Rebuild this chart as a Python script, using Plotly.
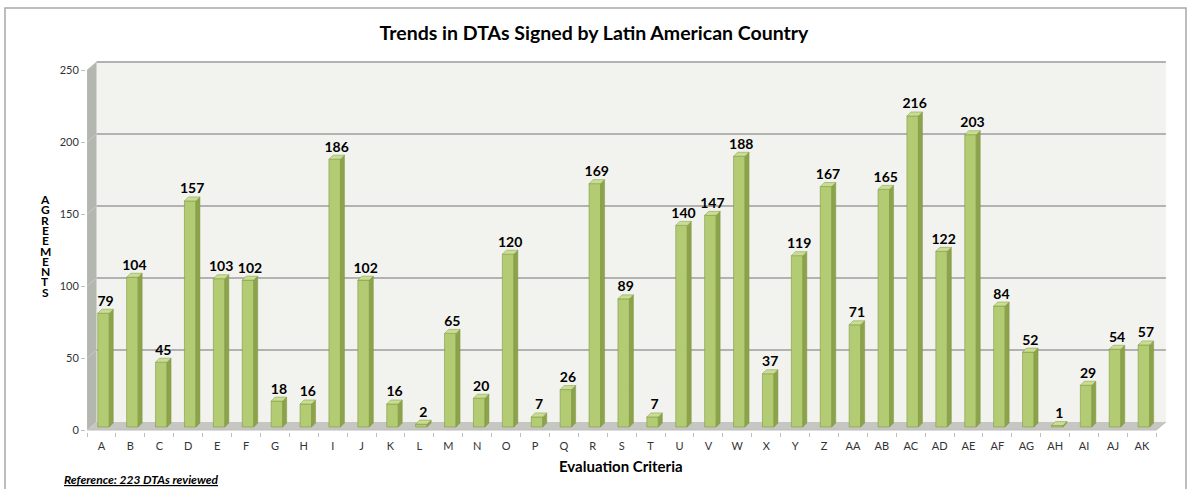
import plotly.graph_objects as go

# Evaluation criteria and number of agreements per criterion
categories = ["A", "B", "C", "D", "E", "F", "G", "H", "I", "J", "K", "L", "M", "N",
              "O", "P", "Q", "R", "S", "T", "U", "V", "W", "X", "Y", "Z", "AA", "AB",
              "AC", "AD", "AE", "AF", "AG", "AH", "AI", "AJ", "AK"]
agreements = [79, 104, 45, 157, 103, 102, 18, 16, 186, 102, 16, 2, 65, 20,
              120, 7, 26, 169, 89, 7, 140, 147, 188, 37, 119, 167, 71, 165,
              216, 122, 203, 84, 52, 1, 29, 54, 57]
y_ticks = [0, 50, 100, 150, 200, 250]

W, H = 1188, 489
# plot-area pixel box (front plane + depth of the 3D box)
PL, PR, PT, PB = 86, 1168, 60, 432
px_x = 28.9          # pixels per category
px_y = 1.44          # pixels per agreement unit
x0_pix = 101.5       # pixel centre of first category
y0_pix = 430         # pixel of value 0 on the front plane


def paper_x(px):
    return (px - PL) / (PR - PL)


def paper_y(py):
    return (PB - py) / (PB - PT)


x_min = -(x0_pix - PL) / px_x
x_max = x_min + (PR - PL) / px_x
y_min = -(PB - y0_pix) / px_y
y_max = y_min + (PB - PT) / px_y

# 3D depth offsets in data units
DX = 9.5 / px_x
DY = 8 / px_y
n = len(categories)
xl, xr = -0.5, n - 0.5

# bar geometry
bw = 11.5 / px_x
boff = 2.0 / px_x
bbase = 3 / px_y
sdx = 4 / px_x
sdy = 4 / px_y

FRONT = "#b3cc74"
SIDE = "#8ca34b"
TOP = "#c9dd93"
EDGE = "#7f9740"

fig = go.Figure()

shapes = []
# outer chart border
shapes.append(dict(type="rect", xref="paper", yref="paper",
                   x0=paper_x(5), x1=paper_x(1186), y0=paper_y(495), y1=paper_y(8),
                   line=dict(color="#a8a8a8", width=1.5), layer="below"))
# back wall
shapes.append(dict(type="rect", xref="x", yref="y", x0=xl + DX, x1=xr + DX,
                   y0=DY, y1=250 + DY, fillcolor="#f2f3ee", line=dict(width=0), layer="below"))
# left side wall
shapes.append(dict(type="path", xref="x", yref="y",
                   path=f"M {xl},{0} L {xl + DX},{DY} L {xl + DX},{250 + DY} L {xl},{250} Z",
                   fillcolor="#b4b6b0", line=dict(width=0), layer="below"))
# floor
shapes.append(dict(type="path", xref="x", yref="y",
                   path=f"M {xl},{0} L {xr},{0} L {xr + DX},{DY} L {xl + DX},{DY} Z",
                   fillcolor="#c6c7c2", line=dict(width=0), layer="below"))
# gridlines on back and side walls
for v in y_ticks[1:]:
    shapes.append(dict(type="line", xref="x", yref="y", x0=xl + DX, x1=xr + DX,
                       y0=v + DY, y1=v + DY, line=dict(color="#b2b2b2", width=2), layer="below"))
    shapes.append(dict(type="line", xref="x", yref="y", x0=xl, x1=xl + DX,
                       y0=v, y1=v + DY, line=dict(color="#c8c8c8", width=1), layer="below"))
# front floor edge
shapes.append(dict(type="line", xref="x", yref="y", x0=xl, x1=xr, y0=0, y1=0,
                   line=dict(color="#bdbdbd", width=1)))
shapes.append(dict(type="line", xref="x", yref="y", x0=xr, x1=xr + DX, y0=0, y1=DY,
                   line=dict(color="#bdbdbd", width=1)))

# front faces of the columns
xs = [i + boff for i in range(n)]
fig.add_trace(go.Bar(x=xs, y=agreements, base=[bbase] * n, width=bw,
                     marker=dict(color=FRONT, line=dict(color=EDGE, width=0.6)),
                     hoverinfo="skip", showlegend=False))

# side faces and tops built from the same values
side_x, side_y, top_x, top_y = [], [], [], []
for x, v in zip(xs, agreements):
    r = x + bw / 2
    l = x - bw / 2
    t = bbase + v
    side_x += [r, r + sdx, r + sdx, r, r, None]
    side_y += [bbase, bbase + sdy, t + sdy, t, bbase, None]
    top_x += [l, r, r + sdx, l + sdx, l, None]
    top_y += [t, t, t + sdy, t + sdy, t, None]
fig.add_trace(go.Scatter(x=side_x, y=side_y, mode="lines", fill="toself", fillcolor=SIDE,
                         line=dict(color=EDGE, width=0.5), hoverinfo="skip", showlegend=False))
fig.add_trace(go.Scatter(x=top_x, y=top_y, mode="lines", fill="toself", fillcolor=TOP,
                         line=dict(color=EDGE, width=0.5), hoverinfo="skip", showlegend=False))

# value labels
fig.add_trace(go.Scatter(x=[x + sdx / 2 for x in xs],
                         y=[bbase + v + sdy for v in agreements],
                         mode="text", text=[str(v) for v in agreements],
                         textposition="top center",
                         textfont=dict(family="Lato", size=14, color="#000000", weight="bold"),
                         hoverinfo="skip", showlegend=False, cliponaxis=False))

annotations = []
# vertical stacked y-axis title, one letter per row
step = 10.3
for k, ch in enumerate("AGREEMENTS"):
    annotations.append(dict(xref="paper", yref="paper", x=paper_x(45), y=paper_y(199 + k * step),
                            text=f"<b>{ch}</b>", showarrow=False, xanchor="center", yanchor="middle",
                            height=step, valign="middle",
                            font=dict(family="Lato", size=12, color="#000000")))
annotations.append(dict(xref="paper", yref="paper", x=paper_x(621), y=paper_y(466),
                        text="<b>Evaluation Criteria</b>", showarrow=False,
                        xanchor="center", yanchor="middle",
                        font=dict(family="Lato", size=15, color="#000000")))
annotations.append(dict(xref="paper", yref="paper", x=paper_x(62), y=paper_y(480),
                        text="<b><i><u>Reference: 223 DTAs reviewed</u></i></b>", showarrow=False,
                        xanchor="left", yanchor="middle",
                        font=dict(family="Lato", size=12, color="#000000")))

fig.update_layout(
    width=W, height=H,
    margin=dict(l=PL, r=W - PR, t=PT, b=H - PB, pad=0),
    paper_bgcolor="#ffffff", plot_bgcolor="rgba(0,0,0,0)",
    title=dict(text="<b>Trends in DTAs Signed by Latin American Country</b>",
               x=594 / W, xanchor="center", y=1 - 33 / H, yanchor="middle",
               font=dict(family="Lato", size=19.5, color="#000000")),
    shapes=shapes, annotations=annotations,
    xaxis=dict(range=[x_min, x_max], tickvals=list(range(n)), ticktext=categories,
               showgrid=False, zeroline=False, showline=False, ticks="",
               tickfont=dict(family="Lato", size=11, color="#333333"),
               ticklabelstandoff=6,
               minor=dict(tick0=-0.5, dtick=1, ticks="outside", ticklen=4, tickcolor="#bdbdbd")),
    yaxis=dict(range=[y_min, y_max], tickvals=y_ticks, showgrid=False, zeroline=False,
               showline=False, ticks="outside", ticklen=4, tickcolor="#bdbdbd",
               tickfont=dict(family="Lato", size=11, color="#333333")),
)

fig.write_html("out.html")
